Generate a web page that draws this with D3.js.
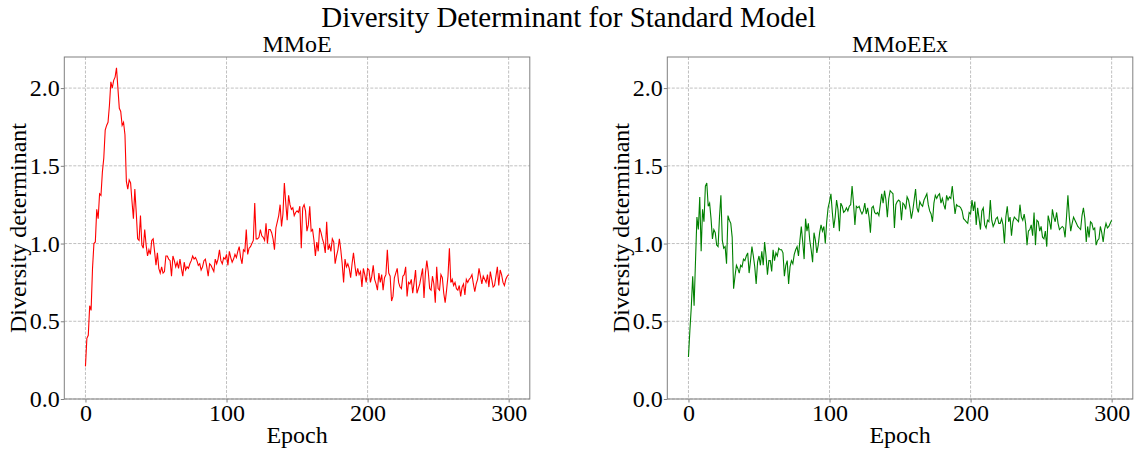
<!DOCTYPE html>
<html>
<head>
<meta charset="utf-8">
<script src="https://cdn.jsdelivr.net/npm/d3@7"></script>
<style>
  body { margin: 0; background: #fff; }
  svg { display: block; font-family: "Liberation Serif", "DejaVu Serif", serif; }
</style>
</head>
<body>
<svg width="1137" height="450"></svg>
<script>
// values, one per epoch 0..300
const mmoe = [
  0.21,0.39,0.41,0.60,0.57,0.84,1.00,1.01,1.22,1.16,1.32,1.31,1.46,1.55,1.73,1.76,1.78,1.89,2.04,2.00,
  2.05,2.07,2.13,2.00,1.87,1.85,1.76,1.78,1.70,1.40,1.35,1.41,1.39,1.27,1.16,1.35,1.20,1.03,1.02,1.18,
  0.99,0.97,1.09,0.99,0.92,0.96,0.93,1.02,1.03,0.95,0.86,0.94,0.84,0.81,0.85,0.81,0.82,0.92,0.92,0.90,
  0.89,0.79,0.92,0.89,0.85,0.88,0.84,0.90,0.84,0.79,0.88,0.83,0.85,0.84,
  0.87,0.89,0.92,0.90,0.91,0.89,0.86,0.87,0.83,0.85,0.89,0.90,0.85,0.79,0.87,0.86,0.84,0.82,0.90,0.87,
  0.90,0.96,0.89,0.87,0.91,0.90,0.93,0.86,0.95,0.91,0.88,0.90,0.93,0.91,0.95,0.98,0.91,0.87,0.96,0.95,
  1.09,0.93,0.97,0.98,1.00,1.02,1.26,1.03,1.03,1.04,1.09,1.05,1.04,1.02,1.13,1.00,1.09,1.09,1.07,1.03,
  0.96,1.10,1.14,1.18,1.25,1.11,1.19,1.39,1.26,1.15,1.31,
  1.25,1.22,1.23,1.18,1.20,1.21,1.20,1.24,0.97,1.23,1.25,1.21,1.08,1.12,1.24,1.08,1.09,1.02,0.92,1.01,
  0.95,1.10,1.07,1.03,1.00,0.94,1.14,0.96,0.99,0.95,1.03,1.01,0.87,0.92,0.96,1.03,0.96,0.87,0.75,0.90,
  0.85,0.87,0.84,0.78,0.87,0.94,0.86,0.79,0.84,0.80,0.82,0.72,0.84,0.80,0.75,0.84,0.83,0.75,0.79,0.86,
  0.77,0.74,0.70,0.81,0.75,0.80,0.70,0.78,0.80,0.96,0.81,0.79,0.63,0.66,0.78,0.81,0.84,0.75,
  0.72,0.71,0.79,0.80,0.85,0.66,0.75,0.74,0.77,0.68,0.75,0.83,0.68,0.71,0.74,0.79,0.84,0.65,0.81,0.89,
  0.82,0.71,0.70,0.79,0.74,0.62,0.85,0.71,0.70,0.80,0.78,0.68,0.62,0.70,0.79,0.97,0.75,0.77,0.73,0.75,
  0.71,0.70,0.73,0.66,0.72,0.74,0.67,0.77,0.75,0.77,0.78,0.80,0.74,0.69,0.74,0.77,0.84,0.79,0.74,0.79,
  0.77,0.75,0.80,0.72,0.82,0.77,0.72,0.73,0.79,0.85,0.73,0.83,0.80,0.75,0.73,0.77,0.79,0.80
];

const mmoeex = [
  0.27,0.44,0.59,0.79,0.60,0.89,1.17,1.09,1.30,0.95,1.22,1.14,1.37,1.39,1.24,1.26,1.16,1.03,1.09,1.07,
  0.99,0.98,1.17,1.31,1.02,0.97,0.98,0.87,1.18,1.15,1.13,1.04,0.71,0.79,0.86,0.84,0.81,0.86,0.85,0.90,
  0.89,0.92,0.94,0.81,0.89,0.98,0.92,0.85,0.74,0.88,0.92,0.86,0.95,0.86,1.01,0.92,0.80,0.89,0.89,0.82,
  0.96,0.89,0.94,0.92,0.97,0.96,0.96,0.94,0.79,0.86,0.89,0.74,0.85,0.89,0.87,0.93,
  0.96,0.98,0.92,1.02,1.11,1.01,0.90,1.16,1.08,1.13,1.02,0.96,0.88,1.07,1.02,0.94,0.99,1.07,1.12,1.08,
  1.11,1.00,1.14,1.23,1.27,1.32,1.20,1.10,1.17,1.28,1.22,1.08,1.26,1.24,1.20,1.21,1.23,1.21,1.24,1.25,
  1.37,1.26,1.12,1.24,1.23,1.24,1.21,1.19,1.21,1.26,1.19,1.23,1.17,1.07,1.23,1.24,1.20,1.19,1.20,1.18,
  1.25,1.32,1.26,1.34,1.28,1.17,1.29,1.34,1.33,1.32,
  1.10,1.25,1.27,1.28,1.27,1.15,1.26,1.25,1.22,1.30,1.28,1.23,1.16,1.21,1.28,1.35,1.23,1.20,1.27,1.25,
  1.24,1.28,1.30,1.32,1.25,1.21,1.19,1.14,1.26,1.31,1.29,1.31,1.32,1.26,1.29,1.25,1.22,1.31,1.28,1.30,
  1.29,1.37,1.28,1.19,1.25,1.24,1.24,1.23,1.21,1.16,1.15,1.14,1.13,1.20,1.19,1.28,1.21,1.27,1.12,1.23,
  1.16,1.09,1.21,1.23,1.12,1.10,1.15,1.14,1.28,1.15,1.11,1.13,1.16,1.17,1.13,1.13,1.16,1.12,
  1.00,1.17,1.24,1.14,1.17,1.05,1.14,1.17,1.16,1.15,1.14,1.25,1.17,1.15,1.19,1.13,0.99,1.08,1.09,1.12,
  1.05,1.20,0.99,1.15,1.14,1.08,1.11,1.04,1.03,1.08,0.98,1.18,1.14,1.09,1.22,1.17,1.14,1.20,1.13,1.09,
  1.10,1.11,1.10,1.04,1.17,1.31,1.17,1.08,1.13,1.17,1.15,1.13,1.11,1.10,1.09,1.18,1.23,1.16,1.01,1.11,
  1.04,1.14,1.13,1.09,1.10,0.99,1.02,1.03,1.11,1.07,1.01,1.09,1.13,1.10,1.11,1.13,1.15
];

const panelTitles = ["MMoE", "MMoEEx"];
const lineColors = ["#ff0000", "#008000"];
const xTicks = [0, 100, 200, 300];
const yTicks = [0.0, 0.5, 1.0, 1.5, 2.0];

const svg = d3.select("svg");
const plotTop = 57, plotBottom = 399;
const panelLefts = [64.3, 667.3], panelWidth = 465.5;

svg.append("text")
  .attr("x", 568.5).attr("y", 27)
  .attr("text-anchor", "middle")
  .style("font-size", "29px")
  .text("Diversity Determinant for Standard Model");

[mmoe, mmoeex].forEach((values, i) => {
  const left = panelLefts[i], right = left + panelWidth;
  const x = d3.scaleLinear().domain([-15, 315]).range([left, right]);
  const y = d3.scaleLinear().domain([0, 2.2]).range([plotBottom, plotTop]);
  const g = svg.append("g");

  // grid
  g.selectAll("line.gx").data(xTicks).join("line")
    .attr("x1", d => x(d)).attr("x2", d => x(d))
    .attr("y1", plotTop).attr("y2", plotBottom)
    .attr("stroke", "#b0b0b0").attr("stroke-width", 0.8)
    .attr("stroke-dasharray", "3,1.5");
  g.selectAll("line.gy").data(yTicks).join("line")
    .attr("x1", left).attr("x2", right)
    .attr("y1", d => y(d)).attr("y2", d => y(d))
    .attr("stroke", "#b0b0b0").attr("stroke-width", 0.8)
    .attr("stroke-dasharray", "3,1.5");

  const line = d3.line().x((d, j) => x(j)).y(d => y(d));
  g.append("path").datum(values)
    .attr("d", line)
    .attr("fill", "none")
    .attr("stroke", lineColors[i])
    .attr("stroke-width", 1.1);

  // spines
  g.append("rect")
    .attr("x", left).attr("y", plotTop)
    .attr("width", panelWidth).attr("height", plotBottom - plotTop)
    .attr("fill", "none").attr("stroke", "#808080").attr("stroke-width", 1);

  const xAxis = d3.axisBottom(x).tickValues(xTicks).tickSize(3.5).tickPadding(1).tickFormat(d3.format("d"));
  const yAxis = d3.axisLeft(y).tickValues(yTicks).tickSize(3.5).tickPadding(1).tickFormat(d3.format(".1f"));

  g.append("g").attr("transform", `translate(0,${plotBottom})`).call(xAxis)
    .call(a => a.select(".domain").remove());
  g.append("g").attr("transform", `translate(${left},0)`).call(yAxis)
    .call(a => a.select(".domain").remove());
  g.selectAll(".tick line").attr("stroke", "#808080");
  g.selectAll(".tick text")
    .attr("font-family", "Liberation Serif")
    .style("font-family", "'Liberation Serif', serif")
    .style("font-size", "24px")
    .attr("fill", "#000");

  g.append("text")
    .attr("x", (left + right) / 2).attr("y", 52)
    .attr("text-anchor", "middle")
    .style("font-size", "24px")
    .text(panelTitles[i]);

  g.append("text")
    .attr("x", (left + right) / 2).attr("y", 443)
    .attr("text-anchor", "middle")
    .style("font-size", "24px")
    .text("Epoch");

  g.append("text")
    .attr("transform", `translate(${left - 38},${(plotTop + plotBottom) / 2}) rotate(-90)`)
    .attr("text-anchor", "middle")
    .style("font-size", "24px")
    .text("Diversity determinant");
});
</script>
</body>
</html>
